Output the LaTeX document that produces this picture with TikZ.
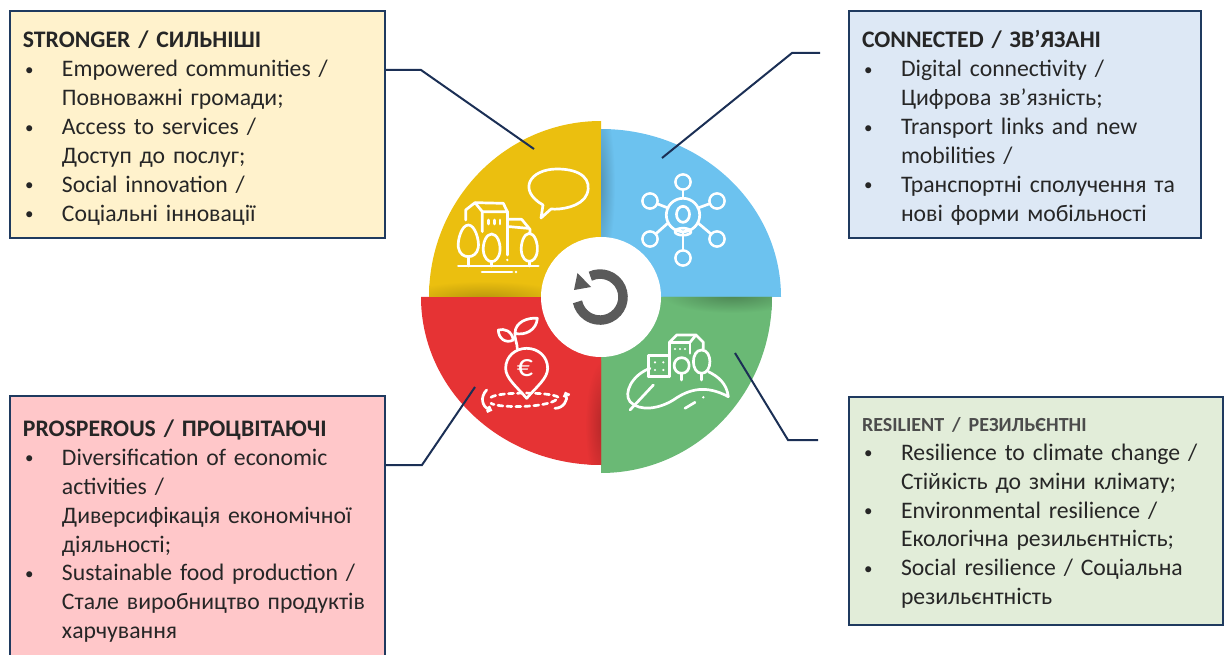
\documentclass[tikz,border=0pt]{standalone}
\usepackage{fontspec}
\setmainfont{Carlito}
\usepackage{tikz}
\usetikzlibrary{arrows.meta}
\definecolor{boxline}{HTML}{1F3A5F}
\definecolor{leaderline}{HTML}{1B2F55}
\definecolor{creambox}{HTML}{FFF2CC}
\definecolor{bluebox}{HTML}{DDE8F5}
\definecolor{pinkbox}{HTML}{FFC7C9}
\definecolor{greenbox}{HTML}{E2EDD9}
\definecolor{yellowpart}{HTML}{EBBF0F}
\definecolor{bluepart}{HTML}{6CC2EF}
\definecolor{greenpart}{HTML}{6AB975}
\definecolor{redpart}{HTML}{E63334}
\definecolor{refreshgrey}{HTML}{5A5A5A}
\newcommand{\titleline}[1]{\rule{0pt}{23pt}\textbf{#1}}
\newcommand{\bulletline}[1]{\makebox[39pt][l]{\hspace*{2pt}{\fontsize{17}{17}\selectfont\raisebox{1.5pt}{\textbullet}}}#1}
\newcommand{\restline}[1]{\hspace*{39pt}#1}

\begin{document}
\begin{tikzpicture}[x=1pt, y=-1pt,
  infobox/.style={draw=boxline, line width=2pt, align=left, inner sep=0pt,
    font=\fontsize{23.7}{28.9}\selectfont, text=black!85},
  leader/.style={draw=leaderline, line width=2pt},
  icon/.style={draw=white, line width=2.7pt, line join=round, line cap=round},
  iconscope/.style={x=0.3333pt, y=-0.3333pt}]
\useasboundingbox (0,0) rectangle (1227,655);

\fill [yellowpart] (601,297) -- (601,121) arc [start angle=-90, end angle=-180, x radius=172, y radius=176] -- cycle;
\fill [bluepart] (601,297) -- (601,129) arc [start angle=-90, end angle=0, x radius=180, y radius=168] -- cycle;
\fill [greenpart] (601,297) -- (772,297) arc [start angle=0, end angle=90, x radius=171, y radius=176] -- cycle;
\fill [redpart] (601,297) -- (601,465) arc [start angle=90, end angle=180, x radius=180, y radius=168] -- cycle;

\begin{scope}
\clip (601,297) -- (601,121) arc [start angle=-90, end angle=-180, x radius=172, y radius=176] -- cycle;
\shade [inner color=yellowpart!78!black, outer color=yellowpart] (485,299) ellipse (85 and 18);
\end{scope}
\begin{scope}
\clip (601,297) -- (601,129) arc [start angle=-90, end angle=0, x radius=180, y radius=168] -- cycle;
\shade [inner color=bluepart!75!black, outer color=bluepart] (599,185) ellipse (16 and 85);
\end{scope}
\begin{scope}
\clip (601,297) -- (772,297) arc [start angle=0, end angle=90, x radius=171, y radius=176] -- cycle;
\shade [inner color=greenpart!72!black, outer color=greenpart] (732,295) ellipse (70 and 18);
\end{scope}
\begin{scope}
\clip (601,297) -- (601,465) arc [start angle=90, end angle=180, x radius=180, y radius=168] -- cycle;
\shade [inner color=redpart!78!black, outer color=redpart] (603,425) ellipse (18 and 65);
\end{scope}

\fill [white] (601,297) circle (60);
\draw [refreshgrey, line width=9.5pt] (590.3,276.2) arc [start angle=-115, end angle=168, radius=23];
\fill [refreshgrey] (577.5,273) -- (574,290) -- (591,287) -- cycle;

% network
\draw [icon] (683,215) circle (16.7);
\draw [icon] (683,214.3) ellipse (6.5 and 8);
\draw [icon] (683,231.7) ellipse (8 and 3.5);
\foreach \outx/\outy/\inx/\iny in {683/182/683/198, 683/258/683/232, 650/201/668/208, 717/201/698/208, 650/239/668/223, 717/239/698/223} {
  \draw [icon] (\outx,\outy) circle (7.5);
  \draw [icon] (\inx,\iny) -- (\outx,\outy);
}
\foreach \outx/\outy in {683/182, 683/258, 650/201, 717/201, 650/239, 717/239}
  \fill [bluepart] (\outx,\outy) circle (6.15);

% speech
\draw [icon] (541,218) -- (543,205) .. controls (517,190) and (530,169) .. (557,169) .. controls (582,169) and (592,180) .. (587,194) .. controls (582,207) and (560,210) .. (551,209) -- cycle;

% town
\begin{scope}[shift={(450,160)}, iconscope]
\draw [icon] (55,195) .. controls (35,195) and (22,240) .. (25,262) .. controls (28,282) and (42,290) .. (55,290) .. controls (68,290) and (82,282) .. (85,262) .. controls (88,240) and (75,195) .. (55,195) -- cycle;
\draw [icon] (55,290) -- (55,318);
\draw [icon] (125,222) .. controls (108,222) and (98,250) .. (100,272) .. controls (102,295) and (115,305) .. (125,305) .. controls (135,305) and (148,295) .. (150,272) .. controls (152,250) and (142,222) .. (125,222) -- cycle;
\draw [icon] (125,305) -- (125,318);
\draw [icon] (238,220) .. controls (222,220) and (212,250) .. (214,272) .. controls (216,295) and (228,304) .. (238,304) .. controls (248,304) and (260,295) .. (262,272) .. controls (264,250) and (254,220) .. (238,220) -- cycle;
\draw [icon] (238,304) -- (238,318);
\draw [icon] (25,318) -- (265,318);
\draw [icon] (47,180) -- (47,150) -- (75,128) -- (97,155) -- (97,215);
\draw [icon] (75,128) -- (160,130) -- (172,155) -- (97,155);
\draw [icon] (172,155) -- (172,285);
\draw [icon] (178,178) -- (215,178) -- (240,208) -- (240,222);
\draw [icon] (178,200) -- (235,205);
\draw [icon] (115,180) -- (115,192) (133,180) -- (133,192) (150,180) -- (150,192);
\fill [white] (172,300) circle (4);
\end{scope}
\draw [icon] (482,272) -- (512,272);
\fill [white] (516,272) circle (1.4);

% euro pin
\begin{scope}[shift={(475,310)}, iconscope]
\draw [icon] (155,265) .. controls (125,230) and (92,205) .. (92,175) .. controls (92,140) and (120,115) .. (155,115) .. controls (190,115) and (218,140) .. (218,175) .. controls (218,205) and (185,230) .. (155,265) -- cycle;
\draw [icon] (127,117) .. controls (127,100) and (118,85) .. (120,70);
\draw [icon] (120,70) .. controls (120,35) and (160,22) .. (187,25) .. controls (185,60) and (150,78) .. (120,70) -- cycle;
\draw [icon] (115,90) .. controls (110,62) and (88,55) .. (70,60) .. controls (70,85) and (92,102) .. (115,90) -- cycle;
\draw [icon, dash pattern=on 5pt off 4pt] (48,262) .. controls (70,245) and (230,245) .. (250,262) .. controls (235,295) and (70,295) .. (48,280);
\draw [icon, -{Straight Barb[length=3pt]}] (35,240) .. controls (15,260) and (20,290) .. (52,302);
\draw [icon, -{Straight Barb[length=3pt]}] (240,295) .. controls (265,295) and (280,270) .. (270,245);
\node [text=white, font=\fontsize{32}{32}\selectfont] (euro) at (150,175) {€};
\end{scope}

% green town
\begin{scope}[shift={(620,325)}, iconscope]
\draw [icon] (90,130) .. controls (35,150) and (10,205) .. (30,230) .. controls (60,262) and (120,250) .. (160,225) .. controls (210,190) and (260,180) .. (325,215) .. controls (320,175) and (295,155) .. (265,140);
\draw [icon] (30,255) -- (100,180);
\draw [icon] (195,250) -- (225,232);
\fill [white] (250,217) circle (4);
\draw [icon] (85,155) -- (85,92) -- (145,92);
\draw [icon] (145,155) -- (85,155);
\draw [icon] (148,155) -- (148,52) -- (210,52) -- (210,85);
\draw [icon] (148,52) -- (170,30) -- (228,30) -- (250,52) -- (250,72);
\draw [icon] (228,30) -- (210,52);
\foreach \winx/\winy in {105/112, 130/112, 105/135, 130/135, 165/72, 180/72, 195/72}
  \fill [white] (\winx,\winy) circle (3.6);
\draw [icon] (185,98) .. controls (155,98) and (155,145) .. (185,145) .. controls (215,145) and (215,98) .. (185,98) -- cycle;
\draw [icon] (185,145) -- (185,165);
\draw [icon] (245,75) .. controls (212,75) and (212,145) .. (245,145) .. controls (278,145) and (278,75) .. (245,75) -- cycle;
\draw [icon] (245,145) -- (245,165);
\end{scope}

\node [infobox, fill=creambox, minimum width=375pt, minimum height=227pt, text width=349pt] (stronger) at (197.5,125) {%
\titleline{STRONGER / СИЛЬНІШІ}\\
\bulletline{Empowered communities /}\\
\restline{Повноважні громади;}\\
\bulletline{Access to services /}\\
\restline{Доступ до послуг;}\\
\bulletline{Social innovation /}\\
\bulletline{Соціальні інновації}};

\node [infobox, fill=bluebox, minimum width=352pt, minimum height=227pt, text width=326pt] (connected) at (1025,125) {%
\titleline{CONNECTED / ЗВ’ЯЗАНІ}\\
\bulletline{Digital connectivity /}\\
\restline{Цифрова зв’язність;}\\
\bulletline{Transport links and new}\\
\restline{mobilities /}\\
\bulletline{Транспортні сполучення та}\\
\restline{нові форми мобільності}};

\node [infobox, fill=pinkbox, minimum width=375pt, minimum height=264pt, text width=349pt] (prosperous) at (197.5,528) {%
\titleline{PROSPEROUS / ПРОЦВІТАЮЧІ}\\
\bulletline{Diversification of economic}\\
\restline{activities /}\\
\restline{Диверсифікація економічної}\\
\restline{діяльності;}\\
\bulletline{Sustainable food production /}\\
\restline{Стале виробництво продуктів}\\
\restline{харчування}};

\node [infobox, fill=greenbox, minimum width=374pt, minimum height=228pt, text width=348pt] (resilient) at (1036,511) {%
{\fontsize{20}{28.9}\selectfont\color{black!70}\rule{0pt}{18pt}\textbf{RESILIENT / РЕЗИЛЬЄНТНІ}}\\
\bulletline{Resilience to climate change /}\\
\restline{Стійкість до зміни клімату;}\\
\bulletline{Environmental resilience /}\\
\restline{Екологічна резильєнтність;}\\
\bulletline{Social resilience / Соціальна}\\
\restline{резильєнтність}};

\coordinate (strongerbend) at (421,70);
\coordinate (strongerend) at (534,149);
\coordinate (connectedfree) at (820,53);
\coordinate (connectedbend) at (792,53);
\coordinate (connectedend) at (662,158);
\coordinate (prosperousbend) at (422,465);
\coordinate (prosperousend) at (475,387);
\coordinate (resilientfree) at (818,440);
\coordinate (resilientbend) at (788,440);
\coordinate (resilientend) at (735,353);

\draw [leader] (strongerbend -| stronger.east) -- (strongerbend) -- (strongerend);
\draw [leader] (connectedfree) -- (connectedbend) -- (connectedend);
\draw [leader] (prosperousbend -| prosperous.east) -- (prosperousbend) -- (prosperousend);
\draw [leader] (resilientfree) -- (resilientbend) -- (resilientend);
\end{tikzpicture}
\end{document}
